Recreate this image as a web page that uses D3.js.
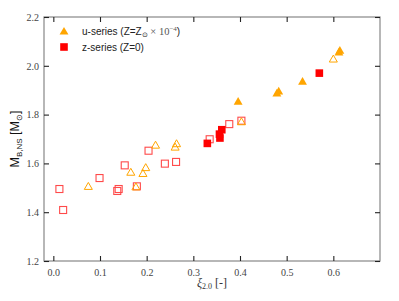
<!DOCTYPE html>
<html>
<head>
<meta charset="utf-8">
<script src="https://cdn.jsdelivr.net/npm/d3@7"></script>
<style>
body { margin: 0; background: #fff; }
svg { display: block; }
</style>
</head>
<body>
<svg id="chart"></svg>
<script>
var screen = {width: 399, height: 301};
var margins = {top: 17, right: 19, bottom: 40, left: 44};

// u-series filled (orange triangles)
var uFilledX = [0.396, 0.479, 0.483, 0.534, 0.612, 0.614];
var uFilledY = [1.853, 1.887, 1.895, 1.935, 2.055, 2.062];
// u-series open
var uOpenX = [0.075, 0.166, 0.177, 0.192, 0.198, 0.219, 0.261, 0.264, 0.403, 0.600];
var uOpenY = [1.505, 1.563, 1.503, 1.558, 1.582, 1.674, 1.666, 1.680, 1.770, 2.027];
// z-series filled (red squares)
var zFilledX = [0.330, 0.357, 0.356, 0.361, 0.570];
var zFilledY = [1.682, 1.704, 1.720, 1.738, 1.970];
// z-series open
var zOpenX = [0.013, 0.021, 0.099, 0.137, 0.140, 0.153, 0.179, 0.204, 0.239, 0.263, 0.335, 0.377, 0.403];
var zOpenY = [1.495, 1.409, 1.540, 1.487, 1.495, 1.592, 1.506, 1.652, 1.599, 1.606, 1.699, 1.761, 1.775];

var xTicks = [0.0, 0.1, 0.2, 0.3, 0.4, 0.5, 0.6];
var yTicks = [1.2, 1.4, 1.6, 1.8, 2.0, 2.2];

var svg = d3.select("#chart")
    .attr("width", screen.width)
    .attr("height", screen.height);

var width = screen.width - margins.left - margins.right;
var height = screen.height - margins.top - margins.bottom;

var xScale = d3.scaleLinear().domain([-0.02, 0.70]).range([0, width]);
var yScale = d3.scaleLinear().domain([1.2, 2.2]).range([height, 0]);

var g = svg.append("g")
    .attr("transform", "translate(" + margins.left + "," + margins.top + ")");

// frame
g.append("rect")
    .attr("width", width)
    .attr("height", height)
    .attr("fill", "none")
    .attr("stroke", "#888")
    .attr("stroke-width", 1.2);

var tickFont = "'Liberation Serif', 'DejaVu Serif', serif";

// bottom axis: inward ticks
var xAxis = d3.axisBottom(xScale).tickValues(xTicks).tickSize(-5).tickPadding(8)
    .tickFormat(d3.format(".1f"));
var xg = g.append("g").attr("transform", "translate(0," + height + ")").call(xAxis);
var xgTop = g.append("g").call(d3.axisTop(xScale).tickValues(xTicks).tickSize(-5).tickFormat(""));

var yAxis = d3.axisLeft(yScale).tickValues(yTicks).tickSize(-5).tickPadding(5)
    .tickFormat(d3.format(".1f"));
var yg = g.append("g").call(yAxis);
var ygRight = g.append("g").attr("transform", "translate(" + width + ",0)")
    .call(d3.axisRight(yScale).tickValues(yTicks).tickSize(-5).tickFormat(""));

[xg, xgTop, yg, ygRight].forEach(function(a)
{
    a.select(".domain").remove();
    a.selectAll(".tick line").attr("stroke", "#222").attr("stroke-width", 1.1);
    a.selectAll("text")
        .attr("fill", "#444")
        .style("font-family", tickFont)
        .style("font-size", "10px");
});

// markers
var triPath = d3.symbol().type(d3.symbolTriangle).size(34)();
var triPathOpen = d3.symbol().type(d3.symbolTriangle).size(28)();
var orange = "#ffa500";
var red = "#ff0000";

var zip = function(xs, ys) { return xs.map(function(x, i) { return [x, ys[i]]; }); };

g.selectAll(".zopen")
    .data(zip(zOpenX, zOpenY))
    .enter()
    .append("rect")
    .attr("class", "zopen")
    .attr("x", function(d) { return xScale(d[0]) - 3.5; })
    .attr("y", function(d) { return yScale(d[1]) - 3.5; })
    .attr("width", 7)
    .attr("height", 7)
    .attr("fill", "none")
    .attr("stroke", "#ff4a4a")
    .attr("stroke-width", 1.1);

g.selectAll(".uopen")
    .data(zip(uOpenX, uOpenY))
    .enter()
    .append("path")
    .attr("class", "uopen")
    .attr("d", triPathOpen)
    .attr("transform", function(d) { return "translate(" + xScale(d[0]) + "," + (yScale(d[1]) + 0.5) + ")"; })
    .attr("fill", "none")
    .attr("stroke", orange)
    .attr("stroke-width", 1);

g.selectAll(".zfill")
    .data(zip(zFilledX, zFilledY))
    .enter()
    .append("rect")
    .attr("class", "zfill")
    .attr("x", function(d) { return xScale(d[0]) - 3.8; })
    .attr("y", function(d) { return yScale(d[1]) - 3.8; })
    .attr("width", 7.6)
    .attr("height", 7.6)
    .attr("fill", red);

g.selectAll(".ufill")
    .data(zip(uFilledX, uFilledY))
    .enter()
    .append("path")
    .attr("class", "ufill")
    .attr("d", triPath)
    .attr("transform", function(d) { return "translate(" + xScale(d[0]) + "," + (yScale(d[1]) + 0.5) + ")"; })
    .attr("fill", orange);

// legend
var legend = svg.append("g").attr("transform", "translate(64,31)");
legend.append("path").attr("d", triPath).attr("fill", orange).attr("transform", "translate(0,1)");
legend.append("rect").attr("x", -3.8).attr("y", 12.2).attr("width", 7.6).attr("height", 7.6).attr("fill", red);

var legText = legend.append("text")
    .attr("x", 18).attr("y", 3.5)
    .style("font-family", "'Liberation Sans', Arial, sans-serif")
    .style("font-size", "10px")
    .attr("fill", "#222");
legText.append("tspan").text("u-series (Z=Z");
legText.append("tspan").attr("dy", 2).style("font-size", "6.5px").text("\u2299");
legText.append("tspan").attr("dy", -2).attr("fill", "#555").style("font-family", tickFont).style("font-size", "10.5px").text(" \u00d7 10");
legText.append("tspan").attr("dy", -4).style("font-size", "7px").attr("fill", "#555").style("font-family", tickFont).text("\u22124");
legText.append("tspan").attr("dy", 4).text(")");

legend.append("text")
    .attr("x", 18).attr("y", 19.5)
    .style("font-family", "'Liberation Sans', Arial, sans-serif")
    .style("font-size", "10px")
    .attr("fill", "#222")
    .text("z-series (Z=0)");

// y label
var yLab = svg.append("text")
    .attr("transform", "translate(19," + (margins.top + height / 2) + ") rotate(-90)")
    .attr("text-anchor", "middle")
    .style("font-family", "'Liberation Sans', Arial, sans-serif")
    .style("font-size", "12.5px")
    .attr("fill", "#111");
yLab.append("tspan").text("M");
yLab.append("tspan").attr("dy", 2.5).style("font-size", "8px").text("B,NS");
yLab.append("tspan").attr("dy", -2.5).text(" [M");
yLab.append("tspan").attr("dy", 2.5).style("font-size", "8px").text("\u2299");
yLab.append("tspan").attr("dy", -2.5).text("]");

// x label
var xLab = svg.append("text")
    .attr("x", margins.left + width / 2)
    .attr("y", 287)
    .attr("text-anchor", "middle")
    .style("font-family", tickFont)
    .style("font-size", "12px")
    .attr("fill", "#333");
xLab.append("tspan").style("font-style", "italic").text("\u03be");
xLab.append("tspan").attr("dy", 2).style("font-size", "8px").text("2.0");
xLab.append("tspan").attr("dy", -2).text(" [-]");
</script>
</body>
</html>
